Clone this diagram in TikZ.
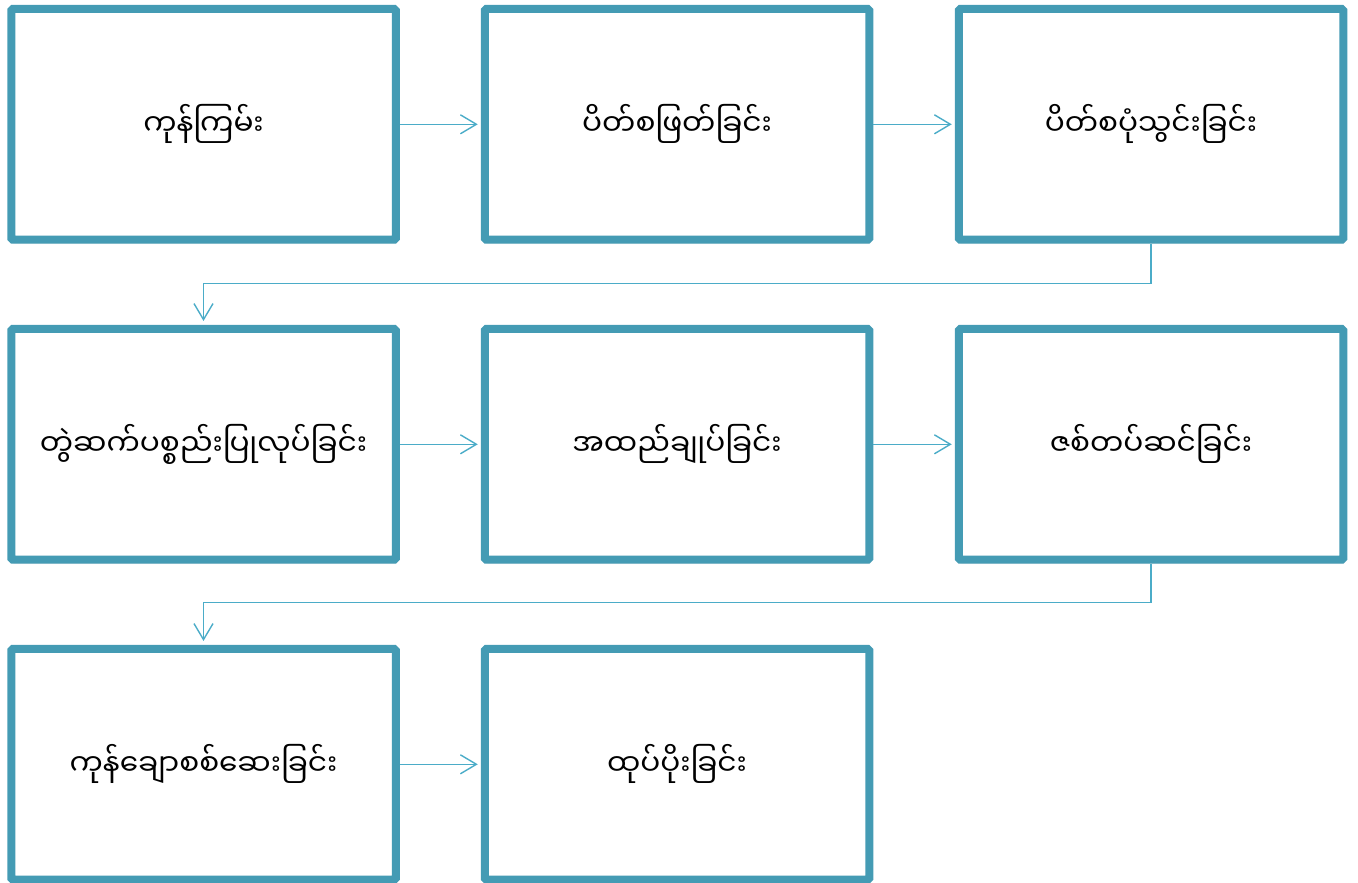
\documentclass[tikz,border=0pt]{standalone}
\usepackage{fontspec}
\newfontfamily\mmfont[Script=Myanmar]{Noto Sans Myanmar UI}
\usetikzlibrary{arrows.meta,shadows.blur}
\definecolor{boxline}{RGB}{68,155,180}
\definecolor{flowline}{RGB}{75,172,200}
\tikzset{
  stepbox/.style={draw=boxline, line width=8pt, fill=white,
    rounded corners=1.5pt, minimum width=384.5pt, minimum height=230.7pt,
    inner sep=0pt, font=\mmfont\fontsize{29.6}{35}\selectfont,
    blur shadow={shadow xshift=1pt, shadow yshift=-3pt, shadow blur steps=8,
      shadow blur extra rounding=2pt, shadow opacity=25}},
  flow/.style={draw=flowline, line width=1.4pt,
    -{Straight Barb[length=16pt, width=19pt, line width=1.4pt]}}
}
\begin{document}
\begin{tikzpicture}[x=1pt, y=-1pt]
  \useasboundingbox (0,0) rectangle (1358,883);
  % row 1
  \node[stepbox] (b1) at (203.5,124.3) {ကုန်ကြမ်း};
  \node[stepbox] (b2) at (677.0,124.3) {ပိတ်စဖြတ်ခြင်း};
  \node[stepbox] (b3) at (1151.0,124.3) {ပိတ်စပုံသွင်းခြင်း};
  % row 2
  \node[stepbox] (b4) at (203.5,444.3) {တွဲဆက်ပစ္စည်းပြုလုပ်ခြင်း};
  \node[stepbox] (b5) at (677.0,444.3) {အထည်ချုပ်ခြင်း};
  \node[stepbox] (b6) at (1151.0,444.3) {ဇစ်တပ်ဆင်ခြင်း};
  % row 3
  \node[stepbox] (b7) at (203.5,764.3) {ကုန်ချောစစ်ဆေးခြင်း};
  \node[stepbox] (b8) at (677.0,764.3) {ထုပ်ပိုးခြင်း};
  % connectors within rows
  \draw[flow] (b1.east) -- ([xshift=-3pt]b2.west);
  \draw[flow] (b2.east) -- ([xshift=-3pt]b3.west);
  \draw[flow] (b4.east) -- ([xshift=-3pt]b5.west);
  \draw[flow] (b5.east) -- ([xshift=-3pt]b6.west);
  \draw[flow] (b7.east) -- ([xshift=-3pt]b8.west);
  % connectors between rows
  \draw[flow] (b3.south) -- ++(0,40) -| ([yshift=4pt]b4.north);
  \draw[flow] (b6.south) -- ++(0,39) -| ([yshift=4pt]b7.north);
\end{tikzpicture}
\end{document}
